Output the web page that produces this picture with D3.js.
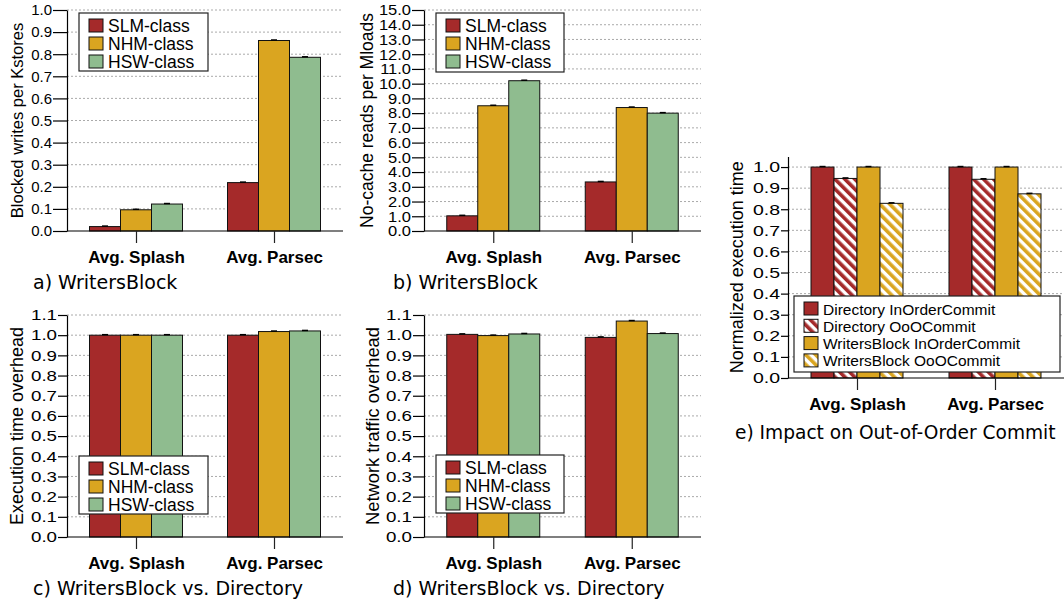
<!DOCTYPE html>
<html>
<head>
<meta charset="utf-8">
<script src="https://cdn.jsdelivr.net/npm/d3@7"></script>
<style>
  body { margin: 0; background: #fff; }
  svg text { font-family: "Liberation Sans", Arial, sans-serif; }
</style>
</head>
<body>
<div id="chart"></div>
<script>
// data
var groups = ["Avg. Splash", "Avg. Parsec"];
var classes = ["SLM-class", "NHM-class", "HSW-class"];
var blockedWrites = [[0.02, 0.096, 0.122], [0.219, 0.862, 0.786]];
var noCacheReads = [[1.03, 8.5, 10.2], [3.33, 8.38, 8.0]];
var execOverhead = [[1.0, 1.0, 1.0], [1.0, 1.018, 1.021]];
var trafficOverhead = [[1.004, 0.998, 1.006], [0.989, 1.07, 1.008]];
var commitModes = ["Directory InOrderCommit", "Directory OoOCommit", "WritersBlock InOrderCommit", "WritersBlock OoOCommit"];
var commitTimes = [[1.0, 0.946, 1.0, 0.828], [1.0, 0.942, 1.0, 0.873]];

var ticksUnit = [0, 0.1, 0.2, 0.3, 0.4, 0.5, 0.6, 0.7, 0.8, 0.9, 1.0];
var ticksReads = [0, 1, 2, 3, 4, 5, 6, 7, 8, 9, 10, 11, 12, 13, 14, 15];
var ticksOverhead = [0, 0.1, 0.2, 0.3, 0.4, 0.5, 0.6, 0.7, 0.8, 0.9, 1.0, 1.1];

var red = "#a52a2a", gold = "#daa520", green = "#8fbc8f";

var svg = d3.select("#chart").append("svg")
    .attr("width", 1064)
    .attr("height", 599);

// hatch patterns for the OoO bars
var defs = svg.append("defs");
function hatch(id, color) {
  var p = defs.append("pattern")
      .attr("id", id)
      .attr("patternUnits", "userSpaceOnUse")
      .attr("width", 7).attr("height", 7)
      .attr("patternTransform", "rotate(-45)");
  p.append("rect").attr("width", 7).attr("height", 7).attr("fill", "#fff");
  p.append("rect").attr("width", 3.6).attr("height", 7).attr("fill", color);
}
hatch("hatchRed", red);
hatch("hatchGold", gold);

function panel(o) {
  var g = svg.append("g");

  var x = d3.scalePoint()
      .domain(groups)
      .range([o.left, o.right])
      .padding(0.5);
  var sub = d3.scaleBand()
      .domain(d3.range(o.series.length))
      .range([-o.groupW / 2, o.groupW / 2]);
  var y = d3.scaleLinear()
      .domain([0, o.max])
      .range([o.bottom, o.top]);

  // grid
  g.selectAll(".grid").data(o.ticks.filter(function(d) { return d > 0; }))
    .enter().append("line")
      .attr("x1", o.left).attr("x2", o.right)
      .attr("y1", function(d) { return y(d); })
      .attr("y2", function(d) { return y(d); })
      .attr("stroke", "#aaa")
      .attr("stroke-dasharray", "2,2");

  // bars
  o.values.forEach(function(vals, gi) {
    vals.forEach(function(v, si) {
      var bx = x(groups[gi]) + sub(si);
      g.append("rect")
        .attr("x", bx)
        .attr("y", y(v))
        .attr("width", sub.bandwidth())
        .attr("height", y(0) - y(v))
        .attr("fill", o.fills[si])
        .attr("stroke", "#111")
        .attr("stroke-width", 1);
      // tiny error bar
      g.append("line")
        .attr("x1", bx + sub.bandwidth() / 2 - 3)
        .attr("x2", bx + sub.bandwidth() / 2 + 3)
        .attr("y1", y(v) - 0.5).attr("y2", y(v) - 0.5)
        .attr("stroke", "#000").attr("stroke-width", 1.5);
    });
  });

  // y axis
  var yAxis = g.append("g")
      .attr("transform", "translate(" + o.left + ",0)")
      .call(d3.axisLeft(y).tickValues(o.ticks).tickFormat(d3.format(".1f")).tickSize(o.tickLen).tickSizeOuter(0));
  yAxis.select(".domain").attr("stroke", "#000").attr("stroke-width", 1.2);
  yAxis.selectAll(".tick line").attr("stroke", "#000").attr("stroke-width", 1.2);
  yAxis.selectAll(".tick text")
      .attr("font-family", "Liberation Sans, Arial, sans-serif")
      .attr("font-size", 15)
      .attr("fill", "#000")
      .attr("x", -(o.tickLen + 1) / o.sx)
      .attr("transform", "scale(" + o.sx + ",1)");

  // x axis
  var xAxis = g.append("g")
      .attr("transform", "translate(0," + o.bottom + ")")
      .call(d3.axisBottom(x).tickSize(12).tickSizeOuter(0).tickPadding(8));
  xAxis.select(".domain").attr("stroke", "#000").attr("stroke-width", 1.2)
      .attr("d", "M" + o.left + ",0H" + o.right);
  xAxis.selectAll(".tick line").attr("stroke", "#222").attr("stroke-width", 1.2);
  xAxis.selectAll(".tick text")
      .attr("font-family", "Liberation Sans, Arial, sans-serif")
      .attr("font-size", 17)
      .attr("font-weight", "bold")
      .attr("fill", "#000");

  // y title
  g.append("text")
    .attr("transform", "translate(" + o.titleX + "," + ((o.top + o.bottom) / 2) + ") rotate(-90)")
    .attr("text-anchor", "middle")
    .attr("dy", "0.35em")
    .attr("font-size", o.titleFont)
    .text(o.yTitle);

  // caption
  g.append("text")
    .attr("x", o.capX).attr("y", o.capY)
    .style("font-family", "DejaVu Sans, sans-serif")
    .attr("font-size", o.capFont)
    .text(o.caption);

  // legend
  var lg = g.append("g").attr("transform", "translate(" + o.legX + "," + o.legY + ")");
  lg.append("rect")
    .attr("width", o.legW).attr("height", o.legH)
    .attr("fill", "#fff").attr("stroke", "#222").attr("stroke-width", 1.2);
  o.series.forEach(function(s, i) {
    var ry = o.legPad + i * o.legStep;
    lg.append("rect")
      .attr("x", 10).attr("y", ry)
      .attr("width", 14).attr("height", 13)
      .attr("fill", o.fills[i]).attr("stroke", "#111");
    lg.append("text")
      .attr("x", 29).attr("y", ry + 12.5)
      .attr("font-size", o.legFont)
      .text(s);
  });
}

var fills3 = [red, gold, green];

panel({ left: 67, right: 343, top: 10, bottom: 231, max: 1.0, ticks: ticksUnit,
  values: blockedWrites, series: classes, fills: fills3, groupW: 93, tickLen: 14, sx: 1.0,
  yTitle: "Blocked writes per Kstores", titleX: 17, titleFont: 16.5,
  caption: "a) WritersBlock", capX: 33, capY: 289, capFont: 19,
  legX: 79, legY: 13, legW: 129, legH: 58, legPad: 6, legStep: 18, legFont: 17.5 });

panel({ left: 424, right: 701, top: 10, bottom: 231, max: 15, ticks: ticksReads,
  values: noCacheReads, series: classes, fills: fills3, groupW: 93, tickLen: 12, sx: 1.1,
  yTitle: "No-cache reads per Mloads", titleX: 367, titleFont: 17.5,
  caption: "b) WritersBlock", capX: 393, capY: 289, capFont: 19,
  legX: 436, legY: 13, legW: 128, legH: 59, legPad: 6, legStep: 18, legFont: 17.5 });

panel({ left: 67, right: 343, top: 315, bottom: 537, max: 1.1, ticks: ticksOverhead,
  values: execOverhead, series: classes, fills: fills3, groupW: 93, tickLen: 9, sx: 1.25,
  yTitle: "Execution time overhead", titleX: 17, titleFont: 18,
  caption: "c) WritersBlock vs. Directory", capX: 33, capY: 595, capFont: 19,
  legX: 79, legY: 456, legW: 129, legH: 58, legPad: 6, legStep: 18, legFont: 17.5 });

panel({ left: 424, right: 701, top: 315, bottom: 537, max: 1.1, ticks: ticksOverhead,
  values: trafficOverhead, series: classes, fills: fills3, groupW: 93, tickLen: 11, sx: 1.25,
  yTitle: "Network traffic overhead", titleX: 373, titleFont: 18.3,
  caption: "d) WritersBlock vs. Directory", capX: 393, capY: 595, capFont: 19,
  legX: 436, legY: 455, legW: 128, legH: 58, legPad: 6, legStep: 18, legFont: 17.5 });

panel({ left: 788, right: 1064, top: 156.5, bottom: 378, max: 1.05, ticks: ticksUnit,
  values: commitTimes, series: commitModes, fills: [red, "url(#hatchRed)", gold, "url(#hatchGold)"],
  groupW: 92, tickLen: 7, sx: 1.3,
  yTitle: "Normalized execution time", titleX: 737, titleFont: 18,
  caption: "e) Impact on Out-of-Order Commit", capX: 735, capY: 439, capFont: 18.6,
  legX: 794, legY: 296, legW: 266, legH: 76, legPad: 6, legStep: 17.3, legFont: 15.5 });
</script>
</body>
</html>
